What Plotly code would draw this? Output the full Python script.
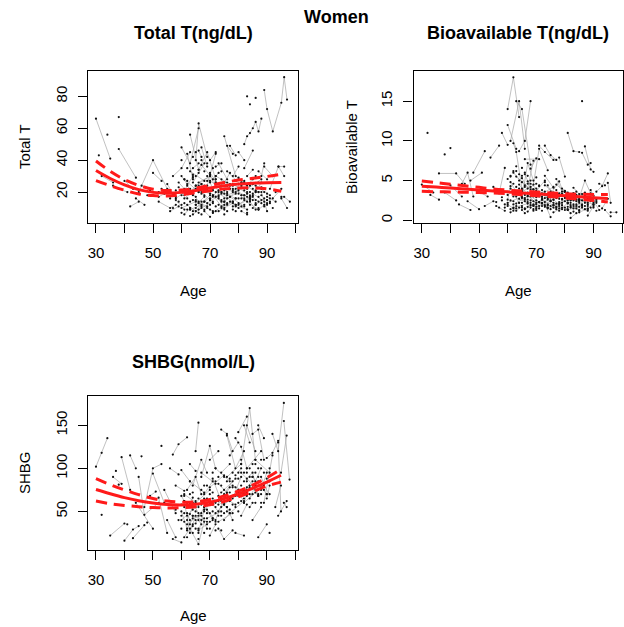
import plotly.graph_objects as go

W, H = 624, 627

# ---------------- Total T (ng/dL) ----------------
tt_ages = [
    [30, 35], [31], [32, 36], [34], [36, 38, 41], [38, 44], [38], [40, 43], [42, 45], [44, 47],
    [45, 50, 55], [46, 49], [48, 52, 55], [50, 53], [52, 56, 58], [53, 57], [55, 58, 61], [56, 59],
    [57, 60, 63], [58, 61], [60, 63, 66], [61, 64], [62, 65, 68], [63, 66, 69, 72], [64, 67],
    [65, 66, 69], [60, 62], [61, 65, 70], [62, 64], [63, 67, 71], [64, 66], [66, 70, 73], [67, 69],
    [68, 71, 74], [69, 72], [70, 74, 77], [71, 75], [72, 76, 79], [73, 76], [74, 78], [75, 79, 82],
    [76, 80], [77, 79], [78, 82, 85], [79, 83], [80, 83, 86], [81, 84],
    [82, 83, 84, 85, 86, 87, 88], [83], [84], [86], [89, 90, 92, 95, 96, 97], [84, 87], [85, 88],
    [86, 89], [87, 90], [88, 90], [89, 92], [90, 93], [91, 94, 96], [92, 95], [94, 96],
    [95, 96, 98], [95, 97], [80, 82], [81, 83], [82, 85], [76, 78], [71, 73], [67, 70], [65, 68],
    [63, 65], [61, 63], [59, 62], [70, 72], [73, 75], [75, 77], [77, 80], [78, 80], [83, 85],
    [84, 86], [86, 88], [87, 89], [88, 89], [76, 78], [68, 70], [69, 71], [66, 67], [64, 66, 68],
    [72, 74], [74, 76], [79, 81], [60, 64], [62, 66], [65, 70], [70, 75], [74, 79], [79, 84],
    [60, 65], [61, 66], [62, 67], [63, 68], [64, 69], [65, 70], [66, 71], [67, 72], [68, 73],
    [69, 74], [70, 75], [71, 76], [72, 77], [73, 78], [74, 79], [75, 80], [76, 81], [77, 82],
    [78, 83], [80, 85], [81, 86], [82, 87], [83, 88], [85, 90], [86, 91],
]
tt_vals = [
    [66, 41], [43], [30, 26], [56], [24, 22, 20], [47, 29], [67], [27, 22], [11, 14], [16, 12],
    [20, 40, 22], [24, 21], [18, 17, 20], [32, 27], [14, 10, 12], [22, 18], [25, 16, 20], [8, 11],
    [30, 35, 45], [15, 9], [48, 38, 60], [22, 18], [12, 8, 14], [56, 34, 45, 28], [6, 10],
    [40, 63, 42], [30, 25], [16, 22, 19], [44, 28], [9, 12, 8], [35, 38], [26, 30, 20], [48, 36],
    [14, 18, 11], [24, 44], [32, 22, 24], [7, 12], [20, 16, 19], [38, 28], [10, 14], [55, 30, 26],
    [18, 21], [49, 43], [22, 18, 15], [12, 9], [28, 24, 30], [16, 20],
    [50, 55, 57, 60, 64, 58, 66], [80], [75], [79], [84, 72, 58, 76, 92, 78], [18, 14], [25, 22],
    [12, 16], [33, 28], [20, 8], [36, 30], [17, 14], [22, 36, 30], [16, 22], [36, 36],
    [17, 17, 14], [16, 10], [45, 40], [8, 6], [35, 46], [22, 20], [28, 32], [20, 15], [12, 17],
    [20, 24], [6, 10], [26, 20], [40, 45], [16, 10], [26, 32], [14, 10], [30, 36], [30, 34],
    [14, 9], [20, 26], [9, 12], [30, 38], [49, 44], [8, 4.5], [30, 22], [46, 42], [26, 32, 38],
    [36, 38], [28, 20], [22, 26], [18, 30], [24, 14], [10, 18], [15, 26], [20, 12], [11, 17],
    [10, 14], [28, 20], [19, 25], [33, 27], [15, 11], [24, 30], [9, 14], [37, 26], [21, 17],
    [13, 19], [27, 21], [18, 12], [30, 25], [8, 13], [20, 16], [14, 22], [33, 24], [17, 11],
    [25, 19], [12, 17], [26, 20], [15, 9], [22, 28], [19, 13], [24, 18],
]
tt_single_age = [60, 61, 62, 62, 63, 64, 64, 65, 65, 66, 66, 67, 67, 68, 68, 69, 69, 70, 70, 71,
                 71, 72, 72, 73, 73, 74, 74, 75, 75, 76, 76, 77, 78, 78, 79, 80, 80, 81, 81, 82,
                 82, 83, 83, 84, 84, 85, 85, 86, 86, 87, 87, 88, 88, 89, 90, 90, 91, 92, 93, 60,
                 58, 56, 54, 52, 57, 59, 63, 66, 69, 72, 75, 78, 81, 84, 87, 90]
tt_single_val = [12, 18, 9, 27, 14, 19, 8, 30, 15, 20, 7, 25, 11, 33, 18, 10, 27, 16, 9, 21,
                 13, 26, 8, 18, 12, 22, 15, 9, 19, 13, 26, 17, 11, 24, 16, 13, 19, 23, 11, 16,
                 27, 14, 20, 12, 24, 18, 10, 15, 21, 17, 26, 13, 18, 14, 19, 12, 16, 10, 20, 40,
                 21, 16, 19, 20, 10, 14, 5, 13, 22, 17, 14, 9, 18, 16, 20, 15]
tt_more_points = [
    (58, 17), (59, 23), (60, 21), (61, 13), (61, 28), (62, 16), (63, 22), (63, 10), (64, 31),
    (65, 17), (65, 12), (66, 24), (67, 14), (67, 19), (68, 9), (69, 21), (70, 26), (70, 12),
    (71, 17), (72, 11), (72, 30), (73, 21), (74, 14), (74, 24), (75, 16), (76, 19), (76, 8),
    (77, 22), (78, 14), (79, 20), (79, 27), (80, 16), (81, 18), (82, 21), (82, 12), (83, 17),
    (84, 15), (85, 22), (85, 28), (86, 12), (87, 20), (88, 23), (89, 11), (89, 20), (90, 15),
    (91, 14), (62, 35), (64, 29), (66, 34), (68, 24), (70, 31), (72, 28), (74, 33), (76, 24),
    (78, 21), (80, 29), (82, 18), (84, 16), (86, 13), (88, 15), (60, 7), (63, 9), (67, 6),
    (71, 7), (75, 6), (79, 8), (83, 7), (87, 10), (91, 13), (65, 45), (67, 40), (69, 38),
    (64, 42), (71, 35),
]
tt_fit_age = [30, 35, 40, 45, 50, 55, 60, 65, 70, 75, 80, 85, 90, 95]
tt_fit = [33.5, 28.5, 24.5, 21.5, 19.8, 19.3, 19.8, 21, 22.5, 24, 25, 25.6, 25.9, 26]
tt_upper = [39.5, 33, 27.8, 24.2, 21.8, 21, 21.3, 22.4, 24.2, 26, 27.5, 28.6, 29.8, 31.2]
tt_lower = [27.2, 24, 21.2, 18.8, 17.8, 17.6, 18.3, 19.6, 20.8, 22, 22.5, 22.6, 22, 20.5]

# ---------------- Bioavailable T (ng/dL) ----------------
bt_ages = [
    [32], [30, 34], [33, 36], [36, 42, 45], [38], [40], [38, 42], [40, 44], [43, 47], [44, 46, 48],
    [46, 50], [47, 51], [48, 52], [50, 53], [52, 55], [54, 57], [55, 57], [56, 59], [57, 59],
    [58, 60], [60, 62, 64], [60, 63], [61, 64, 66], [62, 63, 65], [63, 65, 68], [64, 66, 68],
    [62, 64], [60, 62], [61, 63, 65], [63, 65], [65, 67, 69], [66, 68], [67, 70, 73], [68, 70],
    [69, 71, 74], [70, 72], [71, 73, 76], [72, 75, 78], [73, 76], [74, 77], [75, 78, 80], [76, 79],
    [77, 80, 82], [78, 80], [79, 82], [80, 83, 85], [81, 83, 85], [82, 85], [83, 86, 88], [86],
    [86, 88, 89], [87, 89, 90], [85, 87, 89], [88, 90], [89, 91], [90, 92], [91, 93, 95],
    [92, 94], [93, 95], [94, 96], [96, 98], [95, 96], [60, 61], [61, 63], [62, 66], [64, 67],
    [65, 66], [66, 69], [67, 69], [68, 71], [69, 70], [70, 73], [71, 74], [72, 75], [74, 76],
    [76, 78], [77, 79], [78, 81], [79, 81], [80, 82], [81, 84], [82, 84], [83, 85], [84, 87],
    [85, 88], [87, 88], [88, 90], [65, 67, 69], [66, 71], [73, 75, 77], [62, 67], [64, 70],
    [68, 74], [72, 78], [76, 82], [80, 86], [84, 90],
    [60, 65], [61, 66], [62, 67], [63, 68], [64, 69], [65, 70], [66, 71], [67, 72], [68, 73],
    [69, 74], [70, 75], [71, 76], [72, 77], [73, 78], [74, 79], [75, 80], [76, 81], [77, 82],
    [78, 83], [80, 85], [81, 86], [82, 87], [83, 88], [85, 90], [86, 91],
]
bt_vals = [
    [11], [4.5, 3.5], [3.2, 2.6], [5.9, 5.9, 4.6], [8.3], [9.1], [3.5, 2.5], [4.4, 3.0],
    [2.0, 1.3], [4.6, 6.0, 3.0], [2.4, 1.4], [5.0, 6.0], [6.0, 8.7], [3.6, 3.0], [1.8, 2.4],
    [7.9, 9.4], [4.2, 3.7], [1.8, 1.2], [3.4, 6.6], [11, 9.5], [14, 18, 13], [12, 9],
    [10, 15, 9], [9.7, 8.6, 4], [15, 14, 7], [8.7, 10, 15], [3.5, 2.2], [2.0, 1.5],
    [4.8, 3.6, 2.9], [1.2, 1.8], [5.3, 4.0, 7.5], [2.4, 1.6], [3.1, 2.2, 2.8], [6.5, 7.8],
    [4.5, 9.0, 6.3], [1.5, 2.6], [9.4, 8.6, 7.6], [3.8, 2.4, 1.8], [5.6, 4.1], [2.0, 1.4],
    [3.3, 4.9, 3.0], [1.0, 1.6], [4.5, 3.6, 2.5], [7.9, 5.5], [2.7, 1.9], [3.0, 3.4, 2.2],
    [11, 8.7, 8.6], [1.7, 1.3], [2.5, 3.0, 2.0], [15], [8.5, 7.0, 7.2], [9.3, 6.4, 6.1],
    [2.8, 5.0, 3.4], [1.4, 2.2], [3.8, 2.6], [2.4, 1.3], [3.6, 4.3, 5.9], [4.6, 4.4],
    [1.5, 2.7], [1.3, 0.5], [1.0, 1.0], [4.7, 2.2], [2.6, 4.3], [1.0, 1.5], [6.0, 4.4],
    [3.4, 2.3], [1.3, 0.9], [5.8, 3.3], [1.1, 1.9], [4.2, 3.0], [2.0, 1.3], [3.7, 5.0],
    [2.3, 1.6], [3.0, 0.4], [4.4, 3.0], [2.6, 2.0], [5.2, 3.6], [1.2, 2.2], [4.0, 3.5],
    [1.6, 0.9], [2.5, 3.2], [0.3, 0.9], [4.1, 3.3], [1.8, 2.5], [1.0, 1.5], [3.2, 2.5],
    [0.6, 1.8], [2.8, 7.2, 5.0], [7.7, 7.7], [9.4, 8.2, 7.6], [2.0, 3.0], [4.5, 2.0],
    [3.0, 1.6], [2.2, 3.4], [1.9, 2.8], [3.6, 1.8], [2.4, 3.1],
    [2.2, 3.0], [4.0, 2.6], [1.6, 2.1], [5.5, 3.9], [2.7, 1.8], [3.6, 4.6], [1.4, 2.3],
    [4.9, 3.4], [2.5, 1.9], [3.9, 2.8], [1.7, 2.4], [3.1, 4.2], [2.6, 1.7], [4.4, 3.0],
    [1.5, 2.2], [2.9, 3.7], [1.9, 1.4], [3.4, 2.6], [2.1, 2.9], [3.6, 2.5], [1.3, 1.9],
    [2.8, 3.5], [1.8, 1.2], [2.6, 2.0], [3.3, 2.4],
]
bt_single_age = [60, 61, 62, 62, 63, 63, 64, 64, 65, 65, 66, 66, 67, 67, 68, 68, 69, 69, 70, 70,
                 71, 71, 72, 72, 73, 73, 74, 74, 75, 75, 76, 76, 77, 77, 78, 78, 79, 79, 80, 80,
                 81, 81, 82, 82, 83, 83, 84, 84, 85, 85, 86, 87, 87, 88, 89, 90, 91, 56, 57, 58,
                 59, 61, 63, 65, 67, 69, 71, 73, 75, 77, 79, 81, 83, 85, 87]
bt_single_val = [1.8, 2.5, 1.2, 3.0, 2.1, 4.2, 1.6, 5.0, 2.2, 3.8, 1.5, 3.2, 2.6, 4.6, 1.9, 3.4,
                 2.4, 1.4, 2.9, 4.0, 1.8, 3.2, 2.1, 1.2, 3.6, 1.7, 2.6, 3.3, 1.8, 2.9, 2.2, 3.5,
                 1.6, 2.8, 2.3, 3.1, 1.9, 2.6, 2.4, 1.3, 2.9, 1.7, 2.2, 3.0, 1.5, 2.7, 2.0, 3.6,
                 1.7, 2.4, 2.0, 1.4, 2.9, 2.2, 1.6, 2.0, 1.2, 2.3, 1.6, 2.9, 2.0, 5.5, 6.2, 4.8,
                 5.6, 3.9, 4.4, 3.2, 2.5, 3.8, 3.3, 2.1, 1.1, 2.6, 1.8]
bt_more_points = [
    (58, 2.5), (59, 1.6), (60, 3.2), (61, 1.4), (61, 5.6), (62, 2.4), (62, 4.6), (63, 1.8),
    (63, 3.0), (64, 2.2), (64, 4.0), (65, 1.6), (65, 5.6), (66, 2.8), (66, 4.2), (67, 1.7),
    (67, 3.5), (68, 2.2), (68, 5.0), (69, 3.0), (69, 1.2), (70, 2.5), (70, 3.5), (71, 1.5),
    (71, 4.3), (72, 2.8), (72, 1.8), (73, 2.3), (73, 4.8), (74, 1.9), (74, 2.9), (75, 3.6),
    (75, 1.4), (76, 2.6), (76, 1.6), (77, 3.3), (77, 2.1), (78, 1.5), (78, 2.7), (79, 3.3),
    (79, 1.4), (80, 2.8), (80, 3.6), (81, 2.2), (81, 1.3), (82, 2.6), (82, 1.6), (83, 3.4),
    (83, 2.0), (84, 2.6), (84, 1.5), (85, 3.0), (85, 1.2), (86, 2.5), (86, 1.6), (87, 2.2),
    (88, 1.8), (88, 2.8), (89, 2.4), (90, 1.6), (91, 2.2), (92, 1.8), (60, 5.2), (62, 6.2),
    (64, 5.8), (66, 6.0), (68, 4.6), (70, 5.4), (63, 6.8), (65, 6.6),
]
bt_fit_age = [30, 35, 40, 45, 50, 55, 60, 65, 70, 75, 80, 85, 90, 95]
bt_fit = [4.3, 4.18, 4.06, 3.94, 3.82, 3.7, 3.58, 3.45, 3.33, 3.21, 3.09, 2.97, 2.85, 2.73]
bt_upper = [4.95, 4.75, 4.55, 4.35, 4.15, 3.95, 3.8, 3.68, 3.56, 3.45, 3.35, 3.28, 3.25, 3.25]
bt_lower = [3.65, 3.6, 3.57, 3.53, 3.49, 3.45, 3.36, 3.22, 3.1, 2.97, 2.83, 2.66, 2.5, 2.3]

# ---------------- SHBG (nmol/L) ----------------
sh_ages = [
    [30, 32, 34], [32], [35, 40], [36, 39], [37], [38], [39, 42], [40, 43, 45], [41], [42, 44],
    [43, 47], [44, 50], [45, 47, 52], [46], [47, 50, 53], [48], [49, 51], [50, 54], [52, 55],
    [53], [54, 58], [55, 58], [57, 59, 62], [56, 59], [57, 60], [58, 61], [60, 62, 64], [60, 63],
    [61, 63, 65], [61, 64], [62, 65, 67], [62, 64], [63, 65], [63, 66, 68], [64, 66],
    [64, 67, 69], [65, 66], [65, 68, 71], [66, 69], [67, 70, 72], [67, 69], [68, 71],
    [69, 72, 75], [70, 73], [70, 72], [71, 74, 77], [72, 75], [73, 75, 78], [74, 76, 78],
    [74, 77], [75, 78], [76, 79, 82], [76, 78], [77, 80], [78, 81], [79, 81, 83], [79, 82],
    [80, 82, 84], [80, 83], [81, 84, 86], [81, 83], [82, 84], [83, 85, 87], [83, 86], [84, 86],
    [85, 87, 89], [85, 88], [86, 88], [87, 89], [87, 90], [88, 90], [89, 92], [90, 92, 94],
    [91], [92, 94, 96], [93, 95], [94, 95], [95, 97], [96, 98], [96, 97], [89, 91], [60, 61],
    [62, 63], [63, 64], [66, 67], [68, 70], [71, 73], [73, 76], [75, 77], [77, 79], [80, 81],
    [82, 83], [84, 85], [86, 87], [88, 89], [90, 91], [94, 97],
    [60, 65], [61, 66], [62, 67], [63, 68], [64, 69], [65, 70], [66, 71], [67, 72], [68, 73],
    [69, 74], [70, 75], [71, 76], [72, 77], [73, 78], [74, 79], [75, 80], [76, 81], [77, 82],
    [78, 83], [80, 85], [81, 86], [82, 87], [83, 88], [85, 90], [86, 91],
]
sh_vals = [
    [102, 118, 135], [46], [22, 36], [90, 82], [97], [81], [113, 75], [16, 29, 33], [35],
    [115, 100], [19, 34], [60, 30], [90, 46, 60], [114], [55, 100, 105], [37], [68, 73],
    [94, 60], [66, 25], [126], [75, 48], [40, 20], [116, 128, 136], [100, 93], [18, 14],
    [80, 74], [50, 30, 42], [98, 85], [62, 25, 45], [20, 35], [75, 90, 70], [40, 55],
    [105, 97], [30, 12, 38], [60, 48], [80, 110, 95], [120, 153], [36, 55, 42], [25, 65],
    [90, 126, 100], [45, 30], [70, 85], [52, 40, 65], [110, 120], [22, 35], [88, 62, 78],
    [48, 58], [30, 18, 28], [145, 140, 120], [95, 105], [70, 85], [138, 100, 120], [55, 40],
    [115, 130], [65, 90], [135, 125, 100], [25, 22], [75, 60, 80], [142, 160],
    [105, 170, 110], [45, 58], [150, 130], [88, 95, 70], [150, 120], [65, 80],
    [140, 145, 110], [40, 55], [85, 100], [150, 135], [20, 35], [75, 95], [60, 115],
    [112, 118, 132], [25], [140, 120, 176], [55, 80], [130, 50], [95, 138], [155, 87],
    [60, 55], [80, 70], [68, 62], [48, 40], [58, 66], [40, 35], [50, 60], [58, 50], [82, 72],
    [40, 48], [62, 58], [95, 100], [70, 78], [55, 60], [72, 68], [90, 82], [65, 80], [45, 62],
    [40, 55], [70, 58], [35, 48], [85, 72], [45, 38], [60, 75], [28, 40], [95, 82], [55, 62],
    [42, 50], [78, 92], [65, 55], [100, 85], [38, 48], [72, 88], [58, 70], [90, 105],
    [48, 62], [80, 72], [68, 85], [95, 78], [60, 75], [100, 120], [90, 70], [110, 95],
]
sh_single_age = [60, 61, 61, 62, 62, 63, 63, 64, 64, 65, 65, 66, 66, 67, 67, 68, 68, 69, 69, 70,
                 70, 71, 71, 72, 72, 73, 73, 74, 74, 75, 75, 76, 76, 77, 77, 78, 78, 79, 79, 80,
                 80, 81, 81, 82, 82, 83, 83, 84, 84, 85, 85, 86, 86, 87, 87, 88, 88, 89, 90, 91]
sh_single_val = [45, 55, 38, 28, 60, 47, 70, 33, 52, 40, 62, 55, 30, 58, 75, 42, 65, 48, 80, 38,
                 70, 50, 95, 60, 28, 68, 45, 55, 80, 48, 90, 62, 85, 52, 72, 68, 95, 78, 55, 60,
                 88, 72, 110, 85, 65, 75, 95, 90, 70, 80, 105, 95, 60, 85, 100, 70, 110, 95, 88, 100]
sh_more_points = [
    (58, 52), (59, 40), (60, 58), (60, 30), (61, 48), (61, 68), (62, 45), (62, 55), (63, 35),
    (63, 60), (64, 45), (64, 72), (65, 50), (65, 30), (66, 65), (66, 45), (67, 40), (67, 62),
    (68, 52), (68, 80), (69, 58), (69, 35), (70, 48), (70, 62), (71, 42), (71, 72), (72, 55),
    (72, 85), (73, 58), (73, 90), (74, 65), (74, 45), (75, 60), (75, 75), (76, 50), (76, 70),
    (77, 65), (77, 88), (78, 58), (78, 78), (79, 68), (79, 92), (80, 72), (80, 50), (81, 80),
    (81, 62), (82, 75), (82, 95), (83, 68), (83, 85), (84, 78), (84, 100), (85, 70), (85, 90),
    (86, 75), (86, 105), (87, 68), (87, 90), (88, 80), (88, 60), (89, 75), (90, 70), (91, 85),
    (62, 20), (64, 25), (66, 18), (68, 25), (70, 30), (72, 38), (74, 28),
]
sh_fit_age = [30, 35, 40, 45, 50, 55, 60, 65, 70, 75, 80, 85, 90, 95]
sh_fit = [75.5, 70.5, 66, 62.5, 59.8, 58, 57.5, 58.3, 60.8, 64.8, 70.2, 76.8, 84, 92]
sh_upper = [88, 81, 75, 69.5, 65, 62, 60.8, 61.3, 63.8, 68, 73.5, 80.5, 89, 99]
sh_lower = [62, 59, 57, 55.5, 54.5, 54, 54.3, 55.3, 57.8, 61.6, 67, 73, 79.5, 84]

x_tickvals = [30, 40, 50, 60, 70, 80, 90, 100]
x_ticktext = ["30", "", "50", "", "70", "", "90", ""]

FONT = "Liberation Sans, Arial, Helvetica, sans-serif"

fig = go.Figure()


def add_panel(idx, ages, vals, s_age, s_val, more, f_age, fit, up, lo):
    xa = "x" if idx == 1 else f"x{idx}"
    ya = "y" if idx == 1 else f"y{idx}"
    lx, ly = [], []
    for a, v in zip(ages, vals):
        lx += list(a) + [None]
        ly += list(v) + [None]
    fig.add_trace(go.Scatter(x=lx, y=ly, mode="lines", xaxis=xa, yaxis=ya,
                             line=dict(color="#a6a6a6", width=0.7), hoverinfo="skip",
                             showlegend=False, connectgaps=False))
    px = [x for a in ages for x in a] + list(s_age) + [m[0] for m in more]
    py = [y for v in vals for y in v] + list(s_val) + [m[1] for m in more]
    fig.add_trace(go.Scatter(x=px, y=py, mode="markers", xaxis=xa, yaxis=ya,
                             marker=dict(color="#111111", size=2.2), showlegend=False))
    for yy, dash in ((fit, "solid"), (up, "11px,7px"), (lo, "11px,7px")):
        fig.add_trace(go.Scatter(x=f_age, y=yy, mode="lines", xaxis=xa, yaxis=ya,
                                 line=dict(color="#ff1a1a", width=3, dash=dash, shape="spline"),
                                 showlegend=False))


add_panel(1, tt_ages, tt_vals, tt_single_age, tt_single_val, tt_more_points,
          tt_fit_age, tt_fit, tt_upper, tt_lower)
add_panel(2, bt_ages, bt_vals, bt_single_age, bt_single_val, bt_more_points,
          bt_fit_age, bt_fit, bt_upper, bt_lower)
add_panel(3, sh_ages, sh_vals, sh_single_age, sh_single_val, sh_more_points,
          sh_fit_age, sh_fit, sh_upper, sh_lower)


def xd(a, b):
    return [a / W, b / W]


def yd(top, bot):
    return [1 - bot / H, 1 - top / H]


axis_common = dict(showline=True, linecolor="black", linewidth=1.2, mirror=True,
                   ticks="outside", ticklen=9, tickwidth=1.2, tickcolor="black",
                   showgrid=False, zeroline=False,
                   tickfont=dict(family=FONT, size=15, color="black"))

panels = {
    1: dict(xdom=xd(88, 298), ydom=yd(71, 223), xr=[27.2, 100.85], yr=[0.6, 95.9],
            yt=[20, 40, 60, 80]),
    2: dict(xdom=xd(413.5, 622.7), ydom=yd(71, 223), xr=[27.1, 100.2], yr=[-0.34, 18.8],
            yt=[0, 5, 10, 15]),
    3: dict(xdom=xd(88, 297.5), ydom=yd(396, 549.5), xr=[27.2, 100.8], yr=[5.8, 184],
            yt=[50, 100, 150]),
}

for i, p in panels.items():
    xk = "xaxis" if i == 1 else f"xaxis{i}"
    yk = "yaxis" if i == 1 else f"yaxis{i}"
    ya = "y" if i == 1 else f"y{i}"
    xa = "x" if i == 1 else f"x{i}"
    fig.update_layout(**{
        xk: dict(domain=p["xdom"], range=p["xr"], anchor=ya, tickvals=x_tickvals,
                 ticktext=x_ticktext, ticklabelstandoff=7, **axis_common),
        yk: dict(domain=p["ydom"], range=p["yr"], anchor=xa, tickvals=p["yt"],
                 tickangle=-90, ticklabelstandoff=5, **axis_common),
    })

ann = []


def text(x, y, s, size, bold=False, angle=0):
    ann.append(dict(x=x / W, y=1 - y / H, xref="paper", yref="paper",
                    text=f"<b>{s}</b>" if bold else s,
                    showarrow=False, textangle=angle, xanchor="center", yanchor="middle",
                    font=dict(family=FONT, size=size, color="black")))


text(336, 17, "Women", 18, bold=True)
text(193, 33, "Total T(ng/dL)", 18, bold=True)
text(518, 33, "Bioavailable T(ng/dL)", 18, bold=True)
text(193, 362, "SHBG(nmol/L)", 18, bold=True)
text(193, 290, "Age", 15)
text(518, 290, "Age", 15)
text(193, 615, "Age", 15)
text(24, 147, "Total T", 15, angle=-90)
text(351, 147, "Bioavailable T", 15, angle=-90)
text(24, 473, "SHBG", 15, angle=-90)

fig.update_layout(width=W, height=H, margin=dict(l=0, r=0, t=0, b=0),
                  paper_bgcolor="white", plot_bgcolor="white", annotations=ann,
                  font=dict(family=FONT, color="black"))

fig.write_html("out.html", config={"displayModeBar": False},
               post_script="document.body.style.margin='0';document.body.style.padding='0';")
